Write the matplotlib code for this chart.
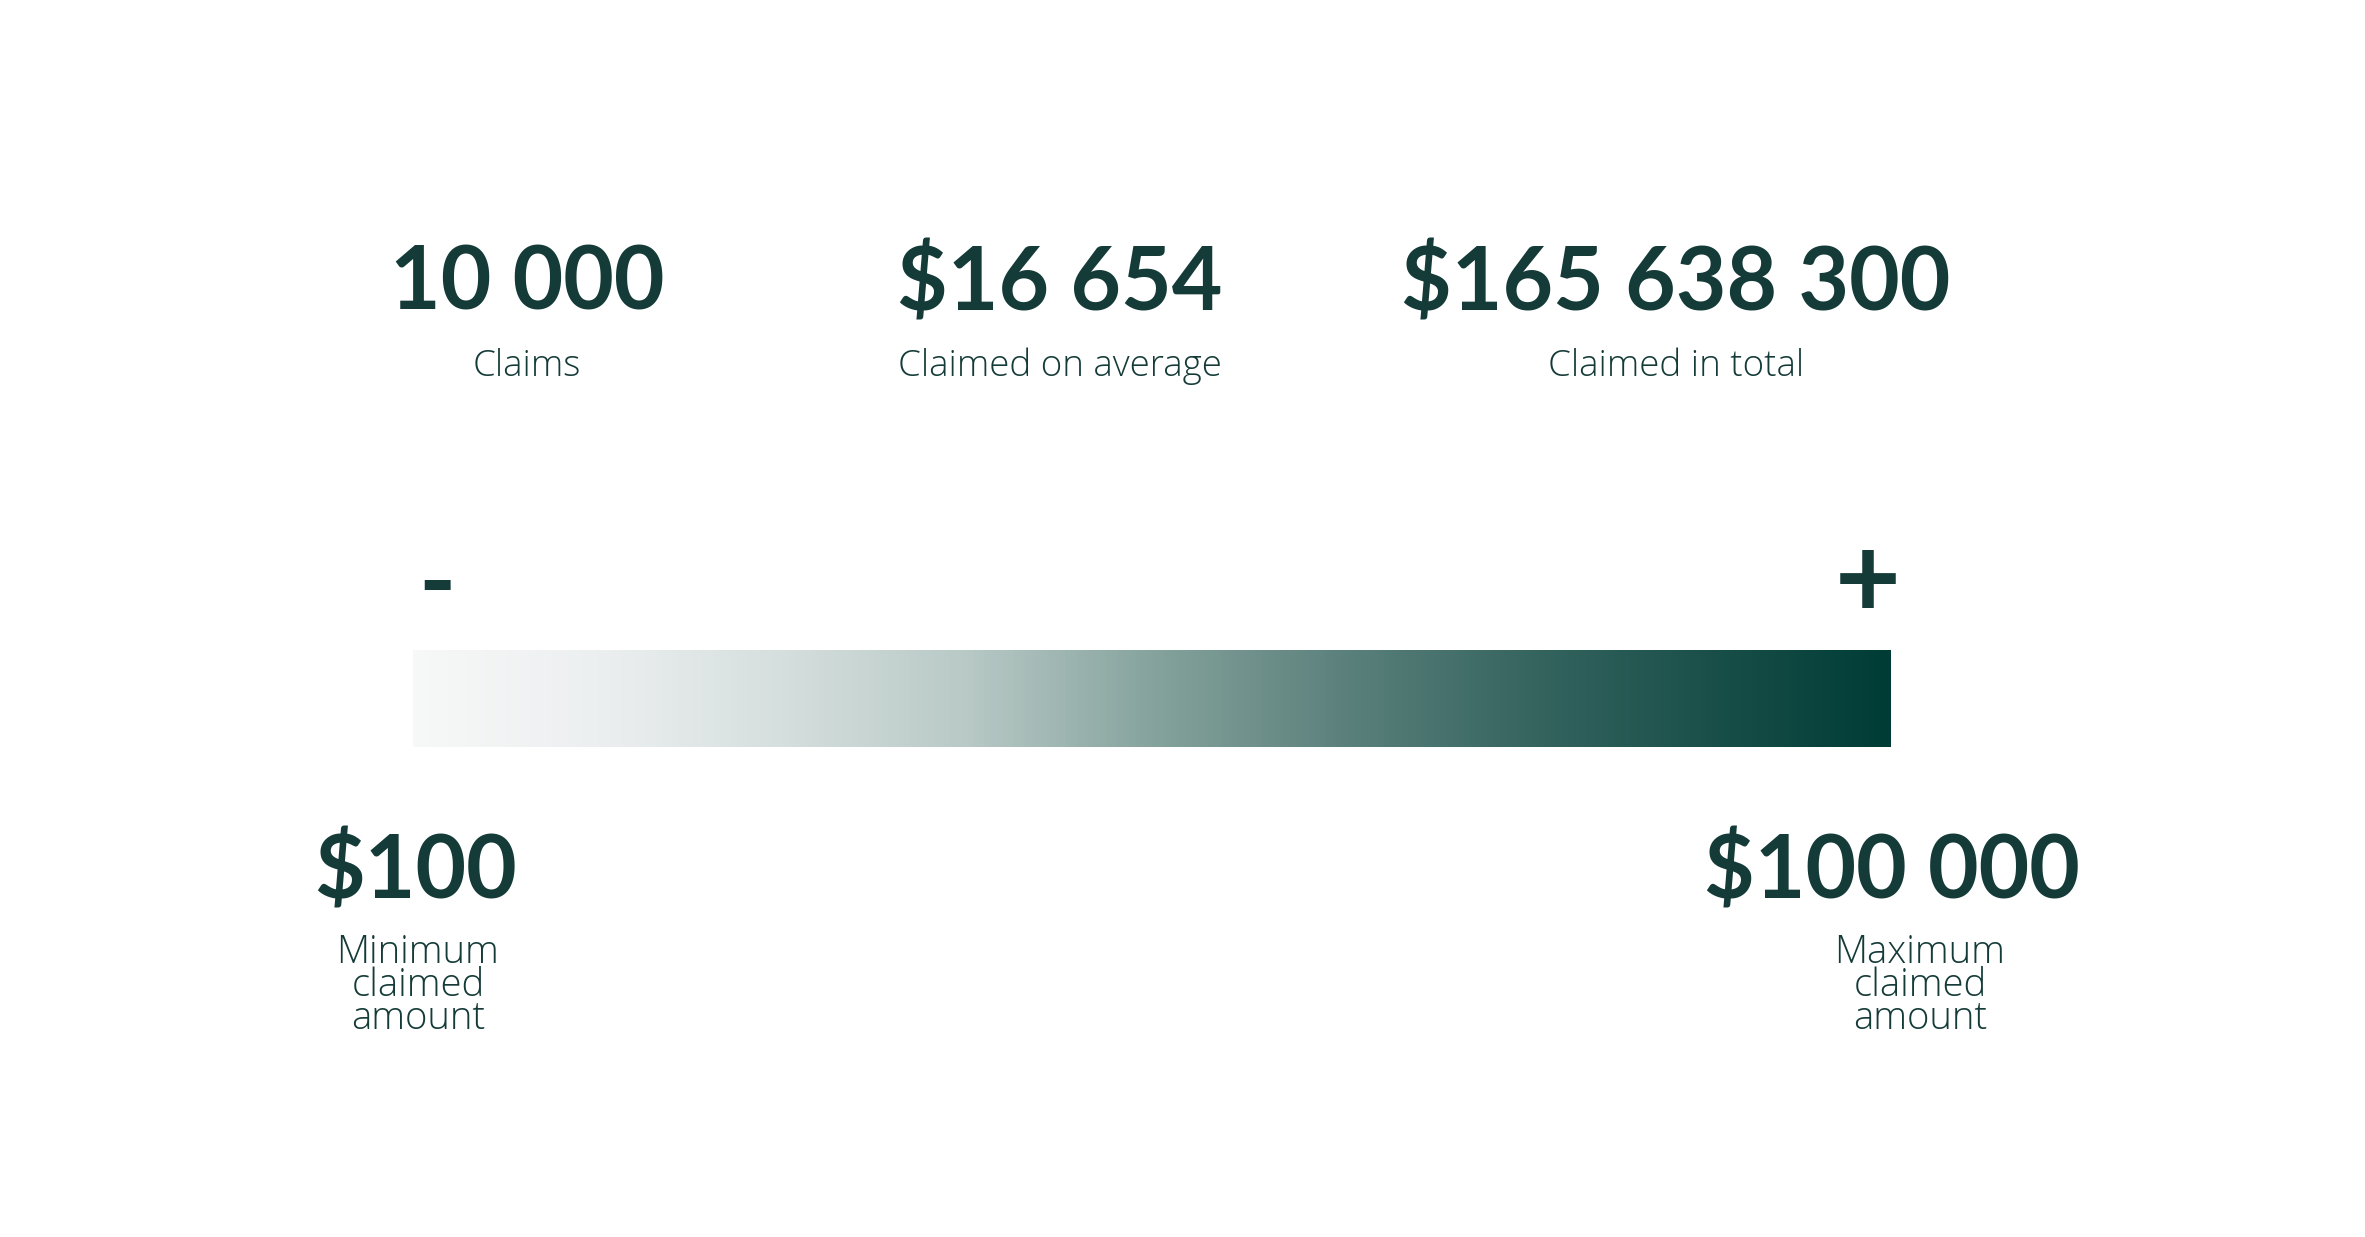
import numpy as np
import matplotlib
matplotlib.use("Agg")
import matplotlib.pyplot as plt
from matplotlib.colors import LinearSegmentedColormap


# =========================
# DATA
# =========================
stat_values = ["10 000", "$16 654", "$165 638 300"]
stat_labels = ["Claims", "Claimed on average", "Claimed in total"]
stat_x = [527, 1060, 1676]

range_values = ["$100", "$100 000"]
range_labels = ["Minimum\nclaimed\namount", "Maximum\nclaimed\namount"]

gradient_stops = [0.0, 0.125, 0.25, 0.375, 0.5, 0.625, 0.75, 0.875, 1.0]
gradient_colors = ["#f7f8f8", "#eceff0", "#d5dfdd", "#b8c9c6", "#86a39d",
                   "#5d827d", "#386661", "#1b504a", "#003c36"]

TEXT_COLOR = "#143b38"
W, H = 2365, 1237
DPI = 100

plt.rcParams["font.family"] = ["Lato", "DejaVu Sans"]
LIGHT_FONT = ["Open Sans", "Lato", "DejaVu Sans"]

# =========================
# FIGURE
# =========================
fig = plt.figure(figsize=(W / DPI, H / DPI), dpi=DPI, facecolor="white")
base = fig.add_axes([0, 0, 1, 1])
base.set_xlim(0, W)
base.set_ylim(H, 0)
base.axis("off")

# top stats
for x, val, lab in zip(stat_x, stat_values, stat_labels):
    base.text(x, 284, val, ha="center", va="center", fontsize=63,
              fontweight="bold", color=TEXT_COLOR)
    base.text(x, 366, lab, ha="center", va="center", fontsize=26.5,
              fontweight="light", family=LIGHT_FONT, color=TEXT_COLOR)

# gradient bar
bar_left, bar_right, bar_top, bar_bottom = 413, 1891, 650, 747
cmap = LinearSegmentedColormap.from_list(
    "claims", list(zip(gradient_stops, gradient_colors)))
bar_ax = fig.add_axes([bar_left / W, 1 - bar_bottom / H,
                       (bar_right - bar_left) / W, (bar_bottom - bar_top) / H])
bar_ax.imshow(np.linspace(0, 1, 512).reshape(1, -1), aspect="auto",
              cmap=cmap, extent=[0, 1, 0, 1])
bar_ax.axis("off")

# - and + markers
base.text(437, 587, "-", ha="center", va="center", fontsize=72,
          fontweight="bold", color=TEXT_COLOR)
base.text(1868, 585, "+", ha="center", va="center", fontsize=82,
          fontweight="bold", color=TEXT_COLOR)

# range ends
for x_val, x_lab, val, lab in zip([416, 1892], [418, 1920],
                                  range_values, range_labels):
    base.text(x_val, 873, val, ha="center", va="center", fontsize=63,
              fontweight="bold", color=TEXT_COLOR)
    base.text(x_lab, 986, lab, ha="center", va="center", fontsize=27.5,
              fontweight="light", family=LIGHT_FONT, color=TEXT_COLOR,
              linespacing=0.82)

fig.savefig("out.png", dpi=DPI, facecolor="white")
